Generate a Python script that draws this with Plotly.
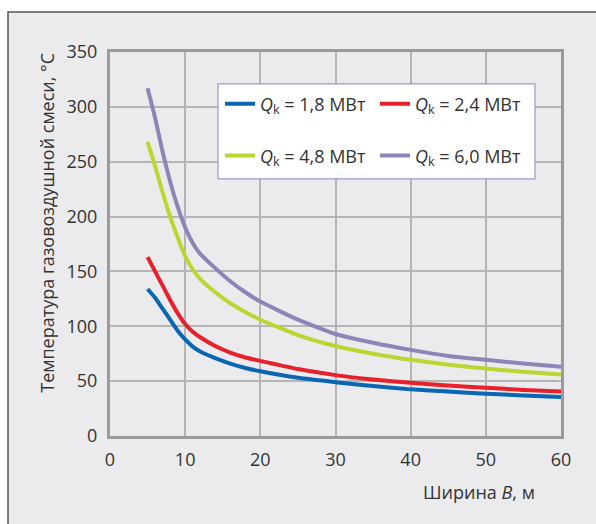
import plotly.graph_objects as go

width_B = [5, 6, 7, 8, 9, 10, 11, 12, 14, 16, 18, 20, 25, 30, 35, 40, 45, 50, 55, 60]
q18 = [134, 126, 116, 106, 96, 88, 81.5, 77, 71, 66, 62, 59, 53, 49, 45.5, 42.5, 40.5, 38.5, 37, 35.5]
q24 = [163, 150, 137, 124, 112, 102, 95, 90, 82, 76, 71.5, 68.5, 61, 55.5, 51.5, 48.5, 46, 44, 42, 40.5]
q48 = [268, 246, 222, 200, 181, 164, 152, 143, 131, 121, 113, 106, 92, 82, 75, 69.5, 65, 61.5, 58.5, 56]
q60 = [317, 290, 259, 232, 209, 190, 176, 166, 153, 141, 131, 122.5, 106, 93, 85, 78.5, 73, 69.5, 66, 63]

names = ["<i>Q</i><sub>k</sub> = 1,8 МВт", "<i>Q</i><sub>k</sub> = 2,4 МВт",
         "<i>Q</i><sub>k</sub> = 4,8 МВт", "<i>Q</i><sub>k</sub> = 6,0 МВт"]
series = [q18, q24, q48, q60]
colors = ["#0a66b2", "#e8202a", "#bcd631", "#8c86b6"]
legends = ["legend", "legend", "legend2", "legend2"]

x_ticks = [0, 10, 20, 30, 40, 50, 60]
y_ticks = [0, 50, 100, 150, 200, 250, 300, 350]

FONT = "Open Sans, Noto Sans, sans-serif"
FS = 18
fig = go.Figure()
for nm, ys, c, lg in zip(names, series, colors, legends):
    fig.add_trace(go.Scatter(x=width_B, y=ys, mode="lines", name=nm,
                             line=dict(color=c, width=4, shape="spline", smoothing=0.5),
                             legend=lg))

L, R, T, B = 110, 35, 52, 87.5
W, H = 596, 524
pw, ph = W - L - R, H - T - B

def px(x):
    return (x - L) / pw

def py(y):
    return 1 - (y - T) / ph

shapes = [
    dict(type="rect", xref="paper", yref="paper", x0=px(8), x1=px(610), y0=py(12), y1=py(540),
         fillcolor="#ebebed", line=dict(color="#555555", width=1.5), layer="below"),
    dict(type="rect", xref="paper", yref="paper", x0=px(218), x1=px(535), y0=py(84), y1=py(179),
         fillcolor="white", line=dict(color="#9c99c4", width=1.2), layer="above"),
]

fig.update_layout(
    width=W, height=H,
    margin=dict(l=L, r=R, t=T, b=B),
    paper_bgcolor="white",
    plot_bgcolor="white",
    font=dict(family=FONT, size=FS, color="#333333"),
    shapes=shapes,
    showlegend=True,
    legend=dict(orientation="h", x=px(220), y=py(104), xanchor="left", yanchor="middle",
                bgcolor="rgba(0,0,0,0)", entrywidth=110, font=dict(size=FS)),
    legend2=dict(orientation="h", x=px(220), y=py(156), xanchor="left", yanchor="middle",
                 bgcolor="rgba(0,0,0,0)", entrywidth=110, font=dict(size=FS)),
    xaxis=dict(range=[0, 60], tickvals=x_ticks, showgrid=True, gridcolor="#b5b5b5", gridwidth=1.5,
               showline=True, linecolor="#9a9a9a", linewidth=3, mirror=True, zeroline=False,
               ticks="", ticklabelstandoff=5),
    yaxis=dict(range=[0, 350], tickvals=y_ticks, showgrid=True, gridcolor="#b5b5b5", gridwidth=1.5,
               showline=True, linecolor="#9a9a9a", linewidth=3, mirror=True, zeroline=False,
               ticks="", ticklabelstandoff=6),
    annotations=[
        dict(text="Температура газовоздушной смеси, °C", xref="paper", yref="paper",
             x=px(47), y=py(223), textangle=-90, showarrow=False, xanchor="center", yanchor="middle",
             font=dict(size=FS, color="#333333")),
        dict(text="Ширина <i>B</i>, м", xref="paper", yref="paper",
             x=px(537), y=py(493), showarrow=False, xanchor="right", yanchor="middle",
             font=dict(size=FS, color="#333333")),
    ],
)

fig.write_html("out.html")
